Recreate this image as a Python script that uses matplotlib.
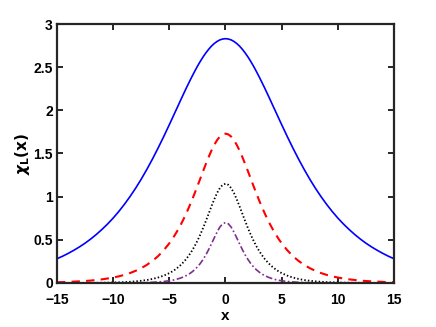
import matplotlib
matplotlib.use("Agg")
import matplotlib.pyplot as plt

# sample positions (x) and curve values
x = [-15, -14.5, -14, -13.5, -13, -12.5, -12, -11.5, -11, -10.5, -10,
     -9.5, -9, -8.5, -8, -7.5, -7, -6.5, -6, -5.5,
     -5, -4.75, -4.5, -4.25, -4, -3.75, -3.5, -3.25, -3, -2.75, -2.5,
     -2.25, -2, -1.75, -1.5, -1.25, -1, -0.75, -0.5, -0.25,
     0,
     0.25, 0.5, 0.75, 1, 1.25, 1.5, 1.75, 2, 2.25, 2.5,
     2.75, 3, 3.25, 3.5, 3.75, 4, 4.25, 4.5, 4.75, 5,
     5.5, 6, 6.5, 7, 7.5, 8, 8.5, 9, 9.5, 10,
     10.5, 11, 11.5, 12, 12.5, 13, 13.5, 14, 14.5, 15]

chi_blue = [0.281, 0.310, 0.343, 0.379, 0.418, 0.461, 0.509, 0.562, 0.620, 0.683, 0.752,
            0.828, 0.911, 1.001, 1.098, 1.203, 1.316, 1.436, 1.563, 1.696,
            1.834, 1.904, 1.975, 2.045, 2.116, 2.186, 2.255, 2.322, 2.387, 2.450, 2.510,
            2.566, 2.618, 2.665, 2.707, 2.744, 2.774, 2.798, 2.816, 2.826,
            2.830,
            2.826, 2.816, 2.798, 2.774, 2.744, 2.707, 2.665, 2.618, 2.566, 2.510,
            2.450, 2.387, 2.322, 2.255, 2.186, 2.116, 2.045, 1.975, 1.904, 1.834,
            1.696, 1.563, 1.436, 1.316, 1.203, 1.098, 1.001, 0.911, 0.828, 0.752,
            0.683, 0.620, 0.562, 0.509, 0.461, 0.418, 0.379, 0.343, 0.310, 0.281]

chi_red = [0.009, 0.010, 0.013, 0.016, 0.019, 0.023, 0.028, 0.035, 0.042, 0.052, 0.063,
           0.077, 0.094, 0.115, 0.141, 0.172, 0.210, 0.256, 0.311, 0.379,
           0.460, 0.506, 0.557, 0.612, 0.671, 0.735, 0.804, 0.878, 0.955, 1.037, 1.121,
           1.207, 1.294, 1.378, 1.459, 1.534, 1.600, 1.655, 1.696, 1.721,
           1.730,
           1.721, 1.696, 1.655, 1.600, 1.534, 1.459, 1.378, 1.294, 1.207, 1.121,
           1.037, 0.955, 0.878, 0.804, 0.735, 0.671, 0.612, 0.557, 0.506, 0.460,
           0.379, 0.311, 0.256, 0.210, 0.172, 0.141, 0.115, 0.094, 0.077, 0.063,
           0.052, 0.042, 0.035, 0.028, 0.023, 0.019, 0.016, 0.013, 0.010, 0.009]

chi_black = [0.000, 0.000, 0.001, 0.001, 0.001, 0.001, 0.002, 0.002, 0.003, 0.004, 0.006,
             0.008, 0.010, 0.014, 0.019, 0.026, 0.034, 0.047, 0.063, 0.085,
             0.114, 0.133, 0.154, 0.179, 0.207, 0.240, 0.277, 0.321, 0.370, 0.426, 0.489,
             0.559, 0.635, 0.717, 0.802, 0.888, 0.970, 1.043, 1.100, 1.137,
             1.150,
             1.137, 1.100, 1.043, 0.970, 0.888, 0.802, 0.717, 0.635, 0.559, 0.489,
             0.426, 0.370, 0.321, 0.277, 0.240, 0.207, 0.179, 0.154, 0.133, 0.114,
             0.085, 0.063, 0.047, 0.034, 0.026, 0.019, 0.014, 0.010, 0.008, 0.006,
             0.004, 0.003, 0.002, 0.002, 0.001, 0.001, 0.001, 0.001, 0.000, 0.000]

chi_purple = [0.000, 0.000, 0.000, 0.000, 0.000, 0.000, 0.000, 0.000, 0.000, 0.000, 0.000,
              0.001, 0.001, 0.002, 0.002, 0.003, 0.005, 0.008, 0.012, 0.017,
              0.026, 0.031, 0.038, 0.047, 0.057, 0.070, 0.085, 0.103, 0.126, 0.153, 0.186,
              0.225, 0.272, 0.325, 0.387, 0.454, 0.523, 0.590, 0.648, 0.686,
              0.700,
              0.686, 0.648, 0.590, 0.523, 0.454, 0.387, 0.325, 0.272, 0.225, 0.186,
              0.153, 0.126, 0.103, 0.085, 0.070, 0.057, 0.047, 0.038, 0.031, 0.026,
              0.017, 0.012, 0.008, 0.005, 0.003, 0.002, 0.002, 0.001, 0.001, 0.000,
              0.000, 0.000, 0.000, 0.000, 0.000, 0.000, 0.000, 0.000, 0.000, 0.000]

xticks = [-15, -10, -5, 0, 5, 10, 15]
yticks = [0, 0.5, 1, 1.5, 2, 2.5, 3]
yticklabels = ['0', '0.5', '1', '1.5', '2', '2.5', '3']

plt.rcParams['font.family'] = ['Liberation Sans', 'DejaVu Sans']
plt.rcParams['font.weight'] = 'bold'

fig = plt.figure(figsize=(4.36, 3.27), dpi=100)
ax = fig.add_axes([0.1307, 0.1346, 0.7730, 0.7920])

ax.plot(x, chi_blue, color='#0000ff', lw=1.2, ls='-')
ax.plot(x, chi_red, color='#ff0000', lw=1.5, ls=(0, (4, 3)))
ax.plot(x, chi_black, color='black', lw=1.3, ls=(0, (0.8, 1.2)))
ax.plot(x, chi_purple, color='#7e2f8e', lw=1.2, ls=(0, (4, 1.5, 1, 1.5)))

ax.set_xlim(-15, 15)
ax.set_ylim(0, 3)
ax.set_xticks(xticks)
ax.set_yticks(yticks)
ax.set_yticklabels(yticklabels)

for sp in ax.spines.values():
    sp.set_linewidth(1.6)
    sp.set_color('#262626')
ax.tick_params(direction='in', length=4, width=1.4, color='#262626',
               top=True, right=True, labelsize=10)
ax.tick_params(axis='x', pad=7)
ax.tick_params(axis='y', pad=3)
for lab in ax.get_xticklabels() + ax.get_yticklabels():
    lab.set_fontweight('bold')

ax.set_xlabel('x', fontsize=11, fontweight='bold', labelpad=2)
ax.set_ylabel(r'$\chi_{\mathbf{L}}\mathbf{(x)}$', fontsize=11, labelpad=1)

fig.savefig('out.png', dpi=100)
